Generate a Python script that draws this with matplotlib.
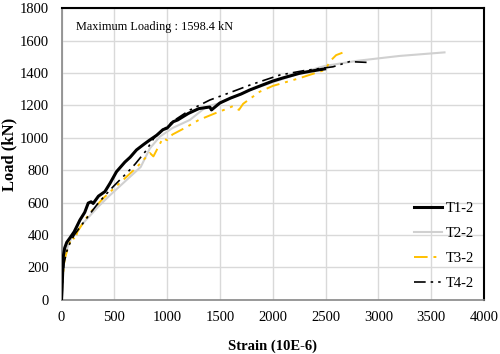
import matplotlib
matplotlib.use('Agg')
import matplotlib.pyplot as plt

# strain (10E-6) and load (kN)
t1_strain = [0, 5, 10, 17, 30, 50, 80, 120, 175, 220, 253, 280, 300, 350, 411, 460, 521, 600, 650, 710,
             780, 837, 900, 960, 1000, 1057, 1100, 1200, 1300, 1404, 1420, 1500, 1600, 1700, 1782, 1900,
             2000, 2100, 2254, 2350, 2491]
t1_load = [0, 60, 150, 267, 320, 355, 382, 420, 493, 540, 597, 605, 595, 640, 668, 720, 791, 850, 880, 925,
           960, 987, 1015, 1050, 1060, 1099, 1110, 1150, 1180, 1190, 1172, 1215, 1245, 1270, 1295, 1325,
           1350, 1370, 1398, 1410, 1425]

t2_strain = [0, 10, 30, 60, 100, 200, 348, 450, 550, 650, 750, 837, 931, 1050, 1215, 1372, 1498, 1782, 1876,
             2254, 2491, 2800, 3200, 3626]
t2_load = [0, 150, 260, 330, 390, 470, 575, 640, 700, 760, 820, 935, 1007, 1060, 1110, 1192, 1214, 1295,
           1315, 1398, 1443, 1475, 1505, 1527]

t3_strain = [0, 10, 30, 60, 100, 130, 150, 200, 250, 300, 400, 500, 600, 700, 800, 837, 870, 960, 1000,
             1050, 1186, 1300, 1450, 1550, 1622, 1680, 1720, 1876, 2000, 2254, 2491, 2554, 2600, 2660]
t3_load = [0, 130, 250, 320, 390, 370, 420, 470, 520, 560, 630, 690, 750, 810, 880, 906, 885, 998, 985,
           1020, 1067, 1110, 1150, 1175, 1195, 1172, 1210, 1284, 1320, 1368, 1418, 1480, 1510, 1525]

t4_strain = [0, 10, 25, 50, 80, 120, 200, 280, 348, 420, 490, 560, 631, 700, 800, 884, 950, 1050, 1215,
             1404, 1600, 1782, 2065, 2300, 2570, 2727, 2900]
t4_load = [0, 120, 230, 300, 350, 400, 470, 540, 597, 650, 699, 745, 791, 840, 920, 1007, 1040, 1100, 1171,
           1233, 1280, 1325, 1387, 1415, 1438, 1470, 1465]

labels = ['T1-2', 'T2-2', 'T3-2', 'T4-2']

plt.rcParams['font.family'] = 'Liberation Serif'

fig = plt.figure(figsize=(5, 3.54), dpi=100)
ax = fig.add_axes([0.123, 0.153, 0.845, 0.824])

ax.plot(t1_strain, t1_load, color='black', lw=2.2, label=labels[0], zorder=5)
ax.plot(t2_strain, t2_load, color='#d0d0d0', lw=1.5, label=labels[1], zorder=3)
ax.plot(t3_strain, t3_load, color='#ffc000', lw=1.4, dashes=(7, 3, 1.5, 3, 1.5, 3), label=labels[2], zorder=4)
ax.plot(t4_strain, t4_load, color='black', lw=1.2, dashes=(7, 3, 1.5, 3, 1.5, 3), label=labels[3], zorder=4)

ax.set_xlim(0, 4000)
ax.set_ylim(0, 1800)
ax.set_xticks(range(0, 4001, 500))
ax.set_yticks(range(0, 1801, 200))
ax.grid(True, color='#d9d9d9', lw=1)
ax.set_axisbelow(True)
ax.tick_params(axis='y', length=0, labelsize=10.5, pad=9)
ax.tick_params(axis='x', length=0, labelsize=10.5, pad=8)

for s in ['left', 'bottom']:
    ax.spines[s].set_color('#888888')
    ax.spines[s].set_linewidth(1.2)
for s in ['top', 'right']:
    ax.spines[s].set_color('black')
    ax.spines[s].set_linewidth(1.5)

ax.set_xlabel('Strain (10E-6)', fontsize=10.5, fontweight='bold', labelpad=11)
ax.set_ylabel('Load (kN)', fontsize=12, fontweight='bold')
ax.yaxis.label.set_va('center')
ax.yaxis.set_label_coords(-0.124, 0.5)

ax.text(0.035, 0.955, 'Maximum Loading : 1598.4 kN', transform=ax.transAxes, fontsize=8.8, va='top')

ax.legend(loc='lower right', frameon=False, fontsize=10.5, handlelength=1.9, labelspacing=0.8,
          handletextpad=0.25, borderaxespad=0.3)

plt.savefig('out.png', dpi=100)
